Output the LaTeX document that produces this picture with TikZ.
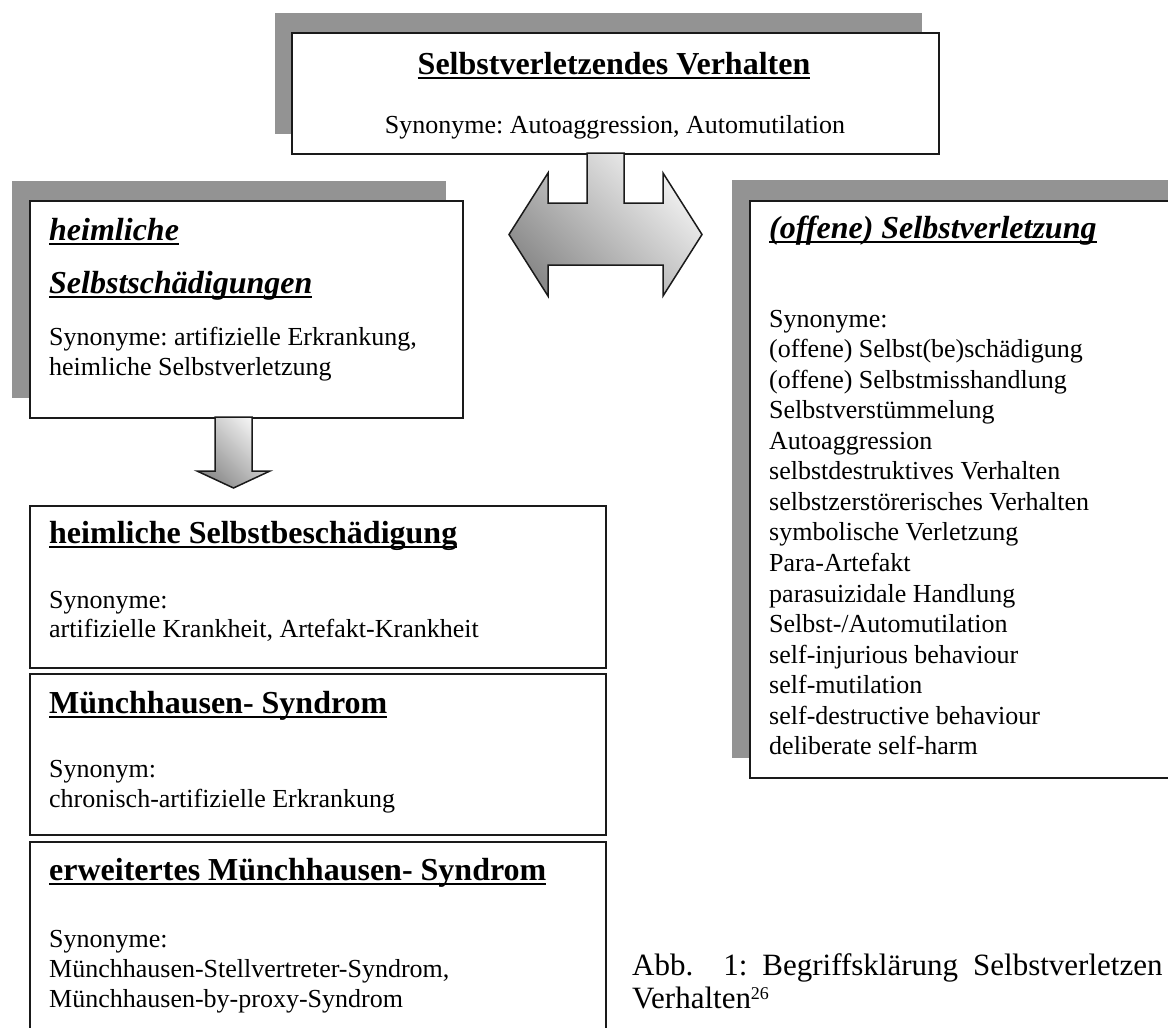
\documentclass[tikz,border=0pt]{standalone}
\usepackage{fontspec}
\setmainfont{Liberation Serif}
\frenchspacing
\definecolor{shadowgray}{HTML}{939393}
\definecolor{arrdark}{HTML}{8A8A8A}
\definecolor{arrlight}{HTML}{F4F4F4}
\definecolor{boxline}{HTML}{1A1A1A}
\newsavebox\ulsave
\newcommand\ulbox[1]{\sbox\ulsave{#1}\rlap{\rule[-5pt]{\wd\ulsave}{2.4pt}}\usebox\ulsave}
\tikzset{
  shadowrect/.style={fill=shadowgray, draw=none},
  mainbox/.style={fill=white, draw=boxline, line width=1.8pt, anchor=north west, inner sep=0pt},
  blockarrow/.style={draw=boxline, line width=1.5pt, line join=miter, top color=arrlight, bottom color=arrdark, shading angle=-45},
  bodytext/.style={inner sep=0pt, anchor=base west, font=\fontsize{26}{30}\selectfont},
  titletext/.style={inner sep=0pt, anchor=base west, font=\fontsize{32}{36}\selectfont\bfseries},
  ititletext/.style={inner sep=0pt, anchor=base west, font=\fontsize{32}{36}\selectfont\bfseries\itshape},
  captiontext/.style={inner sep=0pt, anchor=base west, font=\fontsize{31}{33}\selectfont}
}
\begin{document}
\begin{tikzpicture}[x=1pt,y=-1pt]
\useasboundingbox (0,0) rectangle (1168,1028);
\begin{scope}
\clip (0,0) rectangle (1168,1028);
% shadows
\fill[shadowrect] (275,13) rectangle (922,134);
\fill[shadowrect] (12,181) rectangle (446,398);
\fill[shadowrect] (732,180) rectangle (1200,758);
% boxes
\node[mainbox, minimum width=647pt, minimum height=121pt] (topbox) at (291,32) {};
\node[mainbox, minimum width=433pt, minimum height=217pt] (leftbox) at (29,200) {};
\node[mainbox, minimum width=460pt, minimum height=577pt] (rightbox) at (749,200) {};
\node[mainbox, minimum width=576pt, minimum height=162pt] (boxa) at (29,505) {};
\node[mainbox, minimum width=576pt, minimum height=161pt] (boxb) at (29,673) {};
\node[mainbox, minimum width=576pt, minimum height=220pt] (boxc) at (29,841) {};
% double block arrow
\path[blockarrow] (587,153) -- (587,203) -- (548,203) -- (548,173) -- (509,234.5) -- (548,296) -- (548,265)
  -- (663,265) -- (663,296) -- (702,234.5) -- (663,173) -- (663,203) -- (624,203) -- (624,153) -- cycle;
% down block arrow
\path[blockarrow] (215,417) -- (215,471) -- (197,471) -- (233.5,488) -- (270,471) -- (252,471) -- (252,417) -- cycle;
% top box text
\node[titletext, anchor=base] (toptitle) at (614,74) {\ulbox{Selbstverletzendes Verhalten}};
\node[bodytext, anchor=base] (topsyn) at (615,133) {Synonyme: Autoaggression, Automutilation};
% left box text
\node[ititletext] (lt1) at (49,240) {\ulbox{heimliche}};
\node[ititletext] (lt2) at (49,293) {\ulbox{Selbstschädigungen}};
\node[bodytext] (ls1) at (49,345) {Synonyme: artifizielle Erkrankung,};
\node[bodytext] (ls2) at (49,375) {heimliche Selbstverletzung};
% box a
\node[titletext] (at) at (49,543) {\ulbox{heimliche Selbstbeschädigung}};
\node[bodytext] (as1) at (49,608) {Synonyme:};
\node[bodytext] (as2) at (49,637) {artifizielle Krankheit, Artefakt-Krankheit};
% box b
\node[titletext] (bt) at (49,713) {\ulbox{Münchhausen- Syndrom}};
\node[bodytext] (bs1) at (49,777) {Synonym:};
\node[bodytext] (bs2) at (49,807) {chronisch-artifizielle Erkrankung};
% box c
\node[titletext] (ct) at (49,880) {\ulbox{erweitertes Münchhausen- Syndrom}};
\node[bodytext] (cs1) at (49,947) {Synonyme:};
\node[bodytext] (cs2) at (49,977) {Münchhausen-Stellvertreter-Syndrom,};
\node[bodytext] (cs3) at (49,1007) {Münchhausen-by-proxy-Syndrom};
% right box text
\node[ititletext] (rt) at (769,238) {\ulbox{(offene) Selbstverletzung}};
\foreach \t [count=\i from 0] in {{Synonyme:},{(offene) Selbst(be)schädigung},{(offene) Selbstmisshandlung},
  {Selbstverstümmelung},{Autoaggression},{selbstdestruktives Verhalten},{selbstzerstörerisches Verhalten},
  {symbolische Verletzung},{Para-Artefakt},{parasuizidale Handlung},{Selbst-/Automutilation},
  {self-injurious behaviour},{self-mutilation},{self-destructive behaviour},{deliberate self-harm}}
  {\node[bodytext] (rs\i) at (769,{327+30.57*\i}) {\t};}
% caption
\node[captiontext] (cap1) at (632,975) {Abb.\hspace{30pt}1:\hspace{15pt}Begriffsklärung\hspace{15pt}Selbstverletzen};
\node[captiontext] (cap2) at (632,1008) {Verhalten\raisebox{9pt}{\fontsize{18}{18}\selectfont 26}};
\end{scope}
\end{tikzpicture}
\end{document}
